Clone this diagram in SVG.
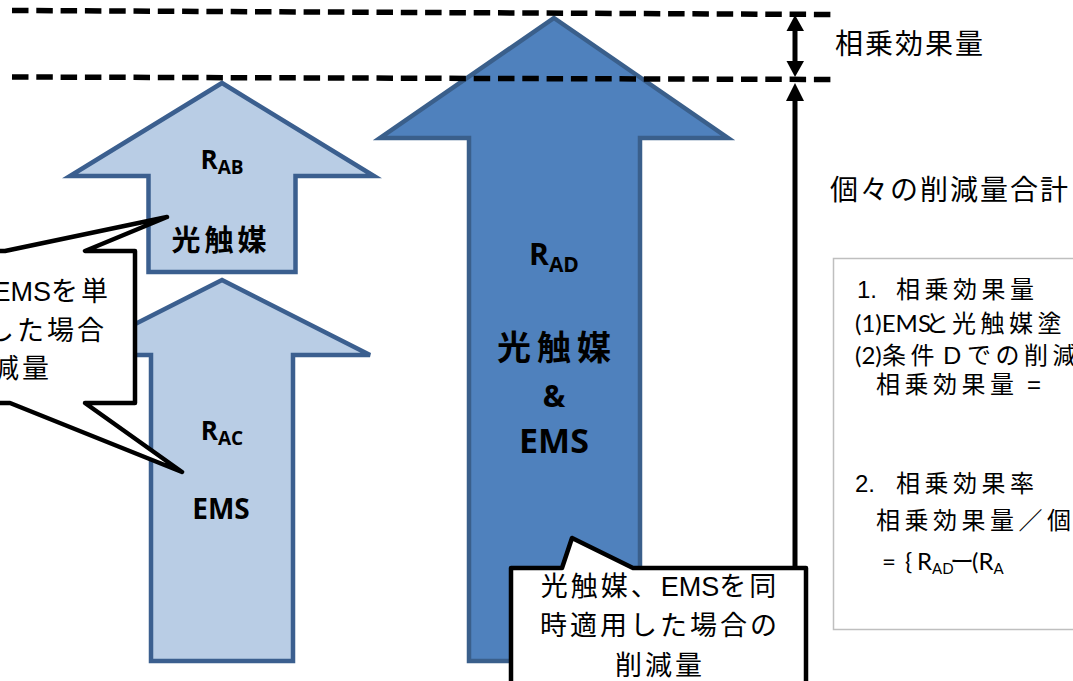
<svg xmlns="http://www.w3.org/2000/svg" width="1073" height="681" viewBox="0 0 1073 681">
<style>
.light{fill:#b9cde5;stroke:#3b5f8f;stroke-width:4.5;stroke-linejoin:miter}
.dark{fill:#4f81bd;stroke:#3a5f8b;stroke-width:4.5;stroke-linejoin:miter}
.lbl{font-family:"Open Sans","Noto Sans CJK JP",sans-serif;font-weight:700;fill:#000;text-anchor:middle}
.cj{font-family:"Noto Sans CJK JP",sans-serif;font-weight:700;fill:#000;text-anchor:middle}
.call{fill:#fff;stroke:#000;stroke-width:4.5;stroke-linejoin:round}
.ct{font-family:"Liberation Sans","Noto Sans CJK JP",sans-serif;font-size:27px;fill:#000}
.sp{letter-spacing:3px}
.rt{font-family:"Liberation Sans","Noto Sans CJK JP",sans-serif;font-size:28px;letter-spacing:2px;fill:#000}
.bt{font-family:"Liberation Sans","Noto Sans CJK JP",sans-serif;font-size:24px;fill:#000}
.bl{font-family:Lato,"Noto Sans CJK JP",sans-serif;font-size:24px;fill:#000}
.dash{stroke:#000;stroke-width:5.5;stroke-dasharray:16.5 7.8;fill:none}
.vline{stroke:#000;stroke-width:5;fill:none}
</style>

<g id="arrow-RAC">
<polygon class="light" points="222,280 370,355 293,355 293,661 151,661 151,355 74,355"/>
<text class="lbl" x="222" y="440" font-size="26">R<tspan font-size="19" dy="5">AC</tspan></text>
<text class="lbl" x="221" y="519" font-size="28">EMS</text>
</g>

<g id="arrow-RAB">
<polygon class="light" points="222,83 374,176 295.5,176 295.5,272 148.5,272 148.5,176 70,176"/>
<text class="lbl" x="222" y="169" font-size="26">R<tspan font-size="19" dy="5">AB</tspan></text>
<text class="cj" x="221" y="251" font-size="29" letter-spacing="4">光触媒</text>
</g>

<g id="arrow-RAD">
<polygon class="dark" points="554,18 728,138 640,138 640,661 469,661 469,138 380,138"/>
<text class="lbl" x="554" y="265" font-size="30">R<tspan font-size="21" dy="7">AD</tspan></text>
<text class="cj" x="557" y="360" font-size="34" letter-spacing="6">光触媒</text>
<text class="lbl" x="554" y="407" font-size="30">&amp;</text>
<text class="lbl" x="554" y="453" font-size="34">EMS</text>
</g>

<g id="connectors">
<line class="dash" x1="12" y1="10.5" x2="833" y2="14.5"/>
<line class="dash" x1="12" y1="77" x2="833" y2="79.5"/>
<line class="vline" x1="795" y1="30" x2="795" y2="62"/>
<polygon points="795,15 786.5,31 804,31" fill="#000"/>
<polygon points="795,77 786.5,61 804,61" fill="#000"/>
<line class="vline" x1="795" y1="570" x2="795" y2="99"/>
<polygon points="795,83 786,101 804,101" fill="#000"/>
</g>

<g id="callout-single">
<path class="call" d="M -150 251 L 5 251 L 167 217 L 85 251 L 135 251 L 135 403 L 85 403 L 182 472 L 10 403 L -150 403 Z"/>
<text class="ct" x="111" y="301" text-anchor="end">EMS<tspan class="sp">を単</tspan></text>
<text class="ct sp" x="107" y="340" text-anchor="end">した場合</text>
<text class="ct sp" x="52" y="378" text-anchor="end">減量</text>
</g>

<g id="callout-combined">
<path class="call" d="M 511 568 L 562 568 L 572 538 L 633 568 L 806 568 L 806 700 L 511 700 Z"/>
<text class="ct" x="660" y="596" text-anchor="middle"><tspan class="sp">光触媒、</tspan>EMS<tspan class="sp">を同</tspan></text>
<text class="ct sp" x="660" y="635" text-anchor="middle">時適用した場合の</text>
<text class="ct sp" x="660" y="675" text-anchor="middle">削減量</text>
</g>

<g id="label-synergy">
<text class="rt" x="835" y="54">相乗効果量</text>
</g>
<g id="label-total">
<text class="rt" x="830" y="200">個々の削減量合計</text>
</g>

<g id="formula-box">
<rect x="833.5" y="258.5" width="260" height="371" fill="#fff" stroke="#bfbfbf" stroke-width="1.5"/>
<text class="bt" y="298"><tspan x="857">1.</tspan><tspan x="896 924.5 953 981.5 1010">相乗効果量</tspan></text>
<text class="bl" y="332"><tspan x="855">(1)EMS</tspan><tspan x="925 952 980.5 1009 1037.5">と光触媒塗</tspan></text>
<text class="bl" y="364"><tspan x="855">(2)</tspan><tspan x="882 910.5">条件</tspan><tspan x="943">D</tspan><tspan x="967 995.5 1024 1052.5">での削減</tspan></text>
<text class="bt" y="393"><tspan x="876 904.5 933 961.5 990">相乗効果量</tspan><tspan x="1027">=</tspan></text>
<text class="bt" y="492"><tspan x="855">2.</tspan><tspan x="896 924.5 953 981.5 1010">相乗効果率</tspan></text>
<text class="bt" y="529"><tspan x="876 904.5 933 961.5 990 1018.5 1047">相乗効果量／個</tspan></text>
<text class="bl" y="570"><tspan x="882">=</tspan><tspan x="905">{</tspan><tspan x="917">R</tspan><tspan font-size="15" dy="4">AD</tspan></text>
<text class="bl" y="570"><tspan x="950">ー</tspan><tspan x="972">(R</tspan><tspan font-size="15" dy="4">A</tspan></text>
</g>
</svg>
